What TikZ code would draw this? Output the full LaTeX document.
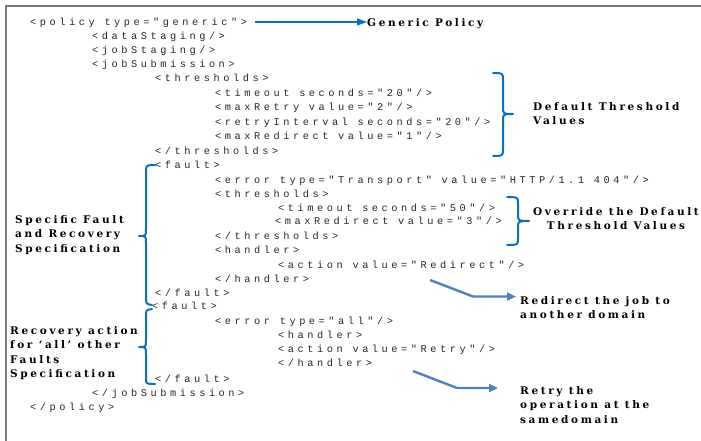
\documentclass[tikz,border=0pt]{standalone}
\usepackage{fontspec}
\setmonofont{Liberation Mono}[LetterSpace=34.5]
\newfontfamily\lblfont{DejaVu Serif}[LetterSpace=25]
\usetikzlibrary{arrows.meta}
\definecolor{bracecol}{RGB}{10,112,196}
\definecolor{arrowcol}{RGB}{79,129,189}
\definecolor{framecol}{RGB}{120,120,120}
\tikzset{
  code/.style={anchor=base west, inner sep=0pt, text=black!85,
    font=\ttfamily\fontsize{10.3}{12}\selectfont},
  lbl/.style={anchor=north west, inner sep=0pt, align=left,
    font=\lblfont\bfseries\fontsize{10.5}{14.6}\selectfont},
  brace/.style={draw=bracecol, line width=2pt, line cap=round, line join=round},
  thinarrow/.style={draw=bracecol, line width=1.1pt,
    -{Triangle[length=10pt,width=7pt]}},
  thickarrow/.style={draw=arrowcol, line width=2.4pt, line join=round,
    -{Triangle[length=9pt,width=8pt]}}
}
\begin{document}
\begin{tikzpicture}[x=1pt,y=-1pt]
\useasboundingbox (0,0) rectangle (701,441);
% frame (top and left edges)
\draw[framecol, line width=2pt] (5.5,441) -- (5.5,6.5) -- (701,6.5);

% XML listing, one node per line (baselines)
\node[code] (l1)  at (30,25.5)  {<policy type="generic">};
\node[code] (l2)  at (92,39.5)  {<dataStaging/>};
\node[code] (l3)  at (92,53.5)  {<jobStaging/>};
\node[code] (l4)  at (92,67.5)  {<jobSubmission>};
\node[code] (l5)  at (155,81.5) {<thresholds>};
\node[code] (l6)  at (215,96.5) {<timeout seconds="20"/>};
\node[code] (l7)  at (215,110.5){<maxRetry value="2"/>};
\node[code] (l8)  at (215,125.5){<retryInterval seconds="20"/>};
\node[code] (l9)  at (215,139.5){<maxRedirect value="1"/>};
\node[code] (l10) at (155,154.5){</thresholds>};
\node[code] (l11) at (155,168.5){<fault>};
\node[code] (l12) at (215,183.5){<error type="Transport" value="HTTP/1.1 404"/>};
\node[code] (l13) at (215,197.5){<thresholds>};
\node[code] (l14) at (278,211.5){<timeout seconds="50"/>};
\node[code] (l15) at (275,224.5){<maxRedirect value="3"/>};
\node[code] (l16) at (215,239.5){</thresholds>};
\node[code] (l17) at (215,253.5){<handler>};
\node[code] (l18) at (278,268.5){<action value="Redirect"/>};
\node[code] (l19) at (215,282.5){</handler>};
\node[code] (l20) at (155,296.5){</fault>};
\node[code] (l21) at (152,309.5){<fault>};
\node[code] (l22) at (215,324.5){<error type="all"/>};
\node[code] (l23) at (278,338.5){<handler>};
\node[code] (l24) at (278,352.5){<action value="Retry"/>};
\node[code] (l25) at (278,366.5){</handler>};
\node[code] (l26) at (155,382.5){</fault>};
\node[code] (l27) at (92,396.5) {</jobSubmission>};
\node[code] (l28) at (30,410.5) {</policy>};

% annotation labels
\node[lbl] (gp)  at (367,18)  {Generic Policy};
\node[lbl] (dtv) at (533,102) {Default Threshold\\Values};
\node[lbl, align=center, anchor=north] (otv) at (616,207) {Override the Default\\Threshold Values};
\node[lbl] (rjd) at (520,296) {Redirect the job to\\another domain};
\node[lbl] (rop) at (520,386) {Retry the\\operation at the\\samedomain};
\node[lbl] (sfr) at (15,215)  {Specific Fault\\and Recovery\\Specification};
\node[lbl] (raf) at (10,326)  {Recovery action\\for ‘all’ other\\Faults\\Specification};

% braces: default thresholds (pointing right)
\draw[brace] (493,73) .. controls (503,73) .. (503,80) -- (503,107)
  .. controls (503,114) .. (513,114) .. controls (503,114) .. (503,121)
  -- (503,149) .. controls (503,156) .. (493,156);
% override thresholds (pointing right)
\draw[brace] (507,197) .. controls (518,197) .. (518,204) -- (518,214)
  .. controls (518,221) .. (529,221) .. controls (518,221) .. (518,228)
  -- (518,238) .. controls (518,245) .. (507,245);
% specific fault (pointing left)
\draw[brace] (155,165) .. controls (146,165) .. (146,173) -- (146,229)
  .. controls (146,236) .. (139,236) .. controls (146,236) .. (146,243)
  -- (146,297) .. controls (146,304) .. (152,305);
% catch-all fault (pointing left)
\draw[brace] (152,309) .. controls (146,310) .. (146,316) -- (146,340)
  .. controls (146,347) .. (139,347) .. controls (146,347) .. (146,354)
  -- (146,378) .. controls (146,384) .. (155,384);

% connectors
\coordinate (gpA) at (255,22);
\draw[thinarrow] (gpA) -- (gp.west |- gpA);

\coordinate (rdA) at (430,280);
\coordinate (rdB) at (473,296.5);
\coordinate (rdC) at (516,296.5);
\draw[thickarrow] (rdA) -- (rdB) -- (rdC);

\coordinate (rtA) at (413,371);
\coordinate (rtB) at (457,388);
\coordinate (rtC) at (498,388);
\draw[thickarrow] (rtA) -- (rtB) -- (rtC);
\end{tikzpicture}
\end{document}
